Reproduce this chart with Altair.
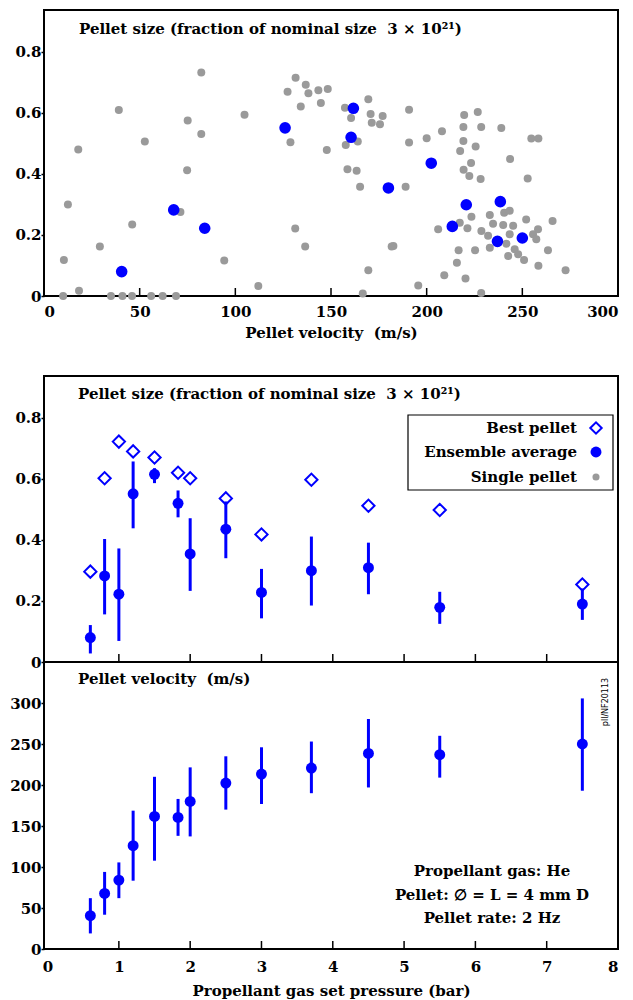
import altair as alt
import pandas as pd

FONT = "DejaVu Serif"
BLUE = "#0000ff"
GREY = "#9a9a9a"

# ---------------- data ----------------
pressure = [0.6, 0.8, 1.0, 1.2, 1.5, 1.83, 2.0, 2.5, 3.0, 3.7, 4.5, 5.5, 7.5]
best_size = [0.296, 0.602, 0.722, 0.690, 0.670, 0.620, 0.602, 0.536, 0.418, 0.597, 0.512, 0.498, 0.254]
avg_size = [0.080, 0.282, 0.222, 0.551, 0.615, 0.520, 0.354, 0.435, 0.228, 0.299, 0.309, 0.179, 0.190]
size_lo = [0.028, 0.156, 0.069, 0.438, 0.586, 0.474, 0.233, 0.340, 0.143, 0.185, 0.222, 0.125, 0.138]
size_hi = [0.121, 0.403, 0.372, 0.657, 0.635, 0.562, 0.471, 0.526, 0.305, 0.411, 0.391, 0.230, 0.241]
avg_vel = [40.6, 67.8, 84.0, 126.0, 161.7, 160.5, 180.0, 202.4, 213.4, 220.7, 238.5, 237.0, 250.0]
vel_lo = [19.0, 41.8, 62.0, 83.3, 107.7, 138.0, 137.3, 170.0, 176.8, 190.0, 197.0, 209.0, 193.0]
vel_hi = [62.0, 94.0, 105.6, 168.7, 210.0, 183.0, 221.5, 235.0, 246.0, 253.0, 280.5, 260.0, 305.6]

single_vel = [82.2, 39.1, 104.8, 75.1, 82.2, 52.7, 17.9, 74.8, 12.5, 71.3, 46.1, 29.2, 10.4, 94.2, 112.0, 18.3,
              10.0, 35.0, 41.0, 46.0, 56.0, 62.0, 69.0,
              131.5, 136.8, 127.3, 138.2, 143.4, 148.3, 134.2, 144.7, 157.3, 169.5, 160.5, 170.7, 177.0, 171.3,
              175.6, 190.8, 128.8, 157.7, 164.0, 147.8, 190.8, 158.6, 163.4, 165.2, 189.0, 131.3, 136.5, 181.7,
              169.5, 166.6,
              200.0, 208.0, 219.6, 226.7, 219.2, 228.5, 239.0, 219.2, 217.5, 225.6, 254.7, 258.4, 243.6, 223.2,
              219.3, 222.3, 228.2, 252.8,
              223.4, 233.0, 240.5, 243.4, 252.0, 265.8, 206.0, 217.3, 221.3, 228.6, 234.7, 240.0, 245.2, 258.2,
              255.6, 232.1, 243.4, 257.3, 241.7, 246.0, 242.6, 247.8, 250.9, 233.0, 225.3, 216.7, 215.8, 209.2,
              220.3, 228.5, 195.6, 258.4, 263.4, 272.6, 182.6]
single_size = [0.732, 0.609, 0.594, 0.575, 0.531, 0.506, 0.480, 0.412, 0.300, 0.275, 0.234, 0.162, 0.118, 0.116, 0.033, 0.017,
               0.0, 0.0, 0.0, 0.0, 0.0, 0.0, 0.0,
               0.715, 0.692, 0.669, 0.664, 0.674, 0.678, 0.621, 0.632, 0.617, 0.645, 0.583, 0.596, 0.590, 0.568,
               0.563, 0.610, 0.504, 0.495, 0.506, 0.478, 0.503, 0.415, 0.410, 0.358, 0.358, 0.221, 0.162, 0.162,
               0.084, 0.008,
               0.517, 0.540, 0.593, 0.603, 0.554, 0.554, 0.550, 0.508, 0.475, 0.490, 0.516, 0.516, 0.449, 0.436,
               0.414, 0.393, 0.383, 0.385,
               0.260, 0.265, 0.273, 0.279, 0.251, 0.246, 0.219, 0.240, 0.222, 0.213, 0.237, 0.233, 0.230, 0.219,
               0.202, 0.197, 0.202, 0.186, 0.171, 0.153, 0.131, 0.137, 0.118, 0.158, 0.150, 0.150, 0.109, 0.068,
               0.057, 0.010, 0.034, 0.099, 0.150, 0.084, 0.164]

vel_axis_values = [0, 50, 100, 150, 200, 250, 300]
vel_inner_ticks = [50, 100, 150, 200, 250]
size_axis_values = [0, 0.2, 0.4, 0.6, 0.8]
p_axis_values = [0, 1, 2, 3, 4, 5, 6, 7, 8]
p_inner_ticks = [1, 2, 3, 4, 5, 6, 7]
velo_axis_values = [0, 50, 100, 150, 200, 250, 300]

NB = "\u00a0"
size_title = "Pellet size (fraction of nominal size " + NB + "3 \u00d7 10\u00b2\u00b9)"
vel_title = "Pellet velocity " + NB + "(m/s)"
x1_title = "Pellet velocity " + NB + "(m/s)"
x3_title = "Propellant gas set pressure (bar)"
legend_labels = ["Best pellet", "Ensemble average", "Single pellet"]
note_lines = ["Propellant gas: He", "Pellet: \u2205 = L = 4 mm D", "Pellet rate: 2 Hz"]
code_label = "pll/NF20113"

# ---------------- sizes ----------------
W = 574
H1 = 286
H2 = 286
H3 = 287
FS = 15
TICK = 8

df_single = pd.DataFrame({"v": single_vel, "s": single_size})
df_main = pd.DataFrame({"p": pressure, "v": avg_vel, "s": avg_size, "best": best_size,
                        "slo": size_lo, "shi": size_hi, "vlo": vel_lo, "vhi": vel_hi})
one = pd.DataFrame({"a": [0]})

size_label_expr = "datum.value == 0 ? '0' : format(datum.value, '.1f')"


def ytxt(text, x, y, align="left", size=FS):
    return alt.Chart(one).mark_text(align=align, baseline="middle", font=FONT, fontWeight="bold",
                                    fontSize=size, color="black", text=text).encode(
        x=alt.value(x), y=alt.value(y))


# ---------------- panel 1 ----------------
xs1 = alt.Scale(domain=[0, 300], nice=False, zero=False)
ys1 = alt.Scale(domain=[0, 0.937], nice=False)
xax1 = alt.Axis(values=vel_axis_values, ticks=False, domain=False, grid=False, labelPadding=8,
                title=x1_title, titlePadding=6, format="d")
yax1 = alt.Axis(values=size_axis_values, labelExpr=size_label_expr, tickSize=3, domain=False,
                grid=False, labelPadding=0, title=None)

p1_grey = alt.Chart(df_single).mark_circle(size=64, color=GREY, opacity=1).encode(
    x=alt.X("v:Q", scale=xs1, axis=xax1, title=x1_title),
    y=alt.Y("s:Q", scale=ys1, axis=yax1, title=None))
p1_blue = alt.Chart(df_main).mark_circle(size=135, color=BLUE, opacity=1).encode(
    x=alt.X("v:Q", title=x1_title), y=alt.Y("s:Q", title=None))
p1_ticks = alt.Chart(pd.DataFrame({"v": vel_inner_ticks})).mark_rule(color="black", strokeWidth=1.5).encode(
    x=alt.X("v:Q", title=x1_title), y=alt.value(H1), y2=alt.value(H1 - TICK))
p1 = alt.layer(p1_grey, p1_blue, p1_ticks, ytxt(size_title, 35, 19)).properties(width=W, height=H1)

# ---------------- panel 2 ----------------
xs2 = alt.Scale(domain=[-0.05, 8], nice=False, zero=False)
ys2 = alt.Scale(domain=[0, 0.937], nice=False)
yax2 = alt.Axis(values=size_axis_values, labelExpr=size_label_expr, tickSize=3, domain=False,
                grid=False, labelPadding=0, title=None)

p2_err = alt.Chart(df_main).mark_rule(color=BLUE, strokeWidth=3).encode(
    x=alt.X("p:Q", scale=xs2, axis=None),
    y=alt.Y("slo:Q", scale=ys2, axis=yax2, title=None), y2="shi:Q")
p2_avg = alt.Chart(df_main).mark_circle(size=120, color=BLUE, opacity=1).encode(
    x=alt.X("p:Q", axis=None), y=alt.Y("s:Q", title=None))
p2_best = alt.Chart(df_main).mark_point(shape="diamond", size=150, color=BLUE, strokeWidth=2,
                                        filled=False, opacity=1).encode(
    x=alt.X("p:Q", axis=None), y=alt.Y("best:Q", title=None))
p2_ticks = alt.Chart(pd.DataFrame({"p": p_inner_ticks})).mark_rule(color="black", strokeWidth=1.5).encode(
    x=alt.X("p:Q", axis=None), y=alt.value(H2), y2=alt.value(H2 - TICK))

leg_box = alt.Chart(one).mark_rect(fill="white", stroke="black", strokeWidth=1.2).encode(
    x=alt.value(364), x2=alt.value(569), y=alt.value(39), y2=alt.value(114))
leg_t = [ytxt(legend_labels[i], 533, yy, align="right") for i, yy in enumerate([52, 76, 101])]
leg_s1 = alt.Chart(one).mark_point(shape="diamond", size=130, color=BLUE, strokeWidth=2, filled=False,
                                   opacity=1).encode(x=alt.value(552), y=alt.value(52))
leg_s2 = alt.Chart(one).mark_circle(size=120, color=BLUE, opacity=1).encode(x=alt.value(552), y=alt.value(76))
leg_s3 = alt.Chart(one).mark_circle(size=50, color=GREY, opacity=1).encode(x=alt.value(552), y=alt.value(101))

p2 = alt.layer(p2_err, p2_avg, p2_best, p2_ticks, ytxt(size_title, 34, 18),
               leg_box, *leg_t, leg_s1, leg_s2, leg_s3).properties(width=W, height=H2)

# ---------------- panel 3 ----------------
ys3 = alt.Scale(domain=[0, 350], nice=False)
xax3 = alt.Axis(values=p_axis_values, ticks=False, domain=False, grid=False, labelPadding=10,
                title=x3_title, titlePadding=9, format="d")
yax3 = alt.Axis(values=velo_axis_values, tickSize=3, domain=False, grid=False, labelPadding=0, title=None,
                format="d")

p3_err = alt.Chart(df_main).mark_rule(color=BLUE, strokeWidth=3).encode(
    x=alt.X("p:Q", scale=xs2, axis=xax3, title=x3_title),
    y=alt.Y("vlo:Q", scale=ys3, axis=yax3, title=None), y2="vhi:Q")
p3_avg = alt.Chart(df_main).mark_circle(size=120, color=BLUE, opacity=1).encode(
    x=alt.X("p:Q", title=x3_title), y=alt.Y("v:Q", title=None))
p3_ticks = alt.Chart(pd.DataFrame({"p": p_inner_ticks})).mark_rule(color="black", strokeWidth=1.5).encode(
    x=alt.X("p:Q", title=x3_title), y=alt.value(H3), y2=alt.value(H3 - TICK))
note = [ytxt(note_lines[i], 448, yy, align="center") for i, yy in enumerate([209, 233, 256])]
code = alt.Chart(one).mark_text(font="DejaVu Sans", fontSize=8, angle=270, color="black",
                                align="center", baseline="middle", text=code_label).encode(
    x=alt.value(562), y=alt.value(40))

p3 = alt.layer(p3_err, p3_avg, p3_ticks, ytxt(vel_title, 34, 17), *note, code).properties(width=W, height=H3)

lower = alt.vconcat(p2, p3, spacing=0, bounds="flush")
chart = alt.vconcat(p1, lower, spacing=34).properties(
    padding={"left": 0, "top": 1, "right": 5, "bottom": 2}
).configure_view(stroke="black", strokeWidth=2).configure_axis(
    labelFont=FONT, titleFont=FONT, labelFontWeight="bold", titleFontWeight="bold",
    labelColor="black", titleColor="black", tickColor="black", tickWidth=1.5,
    labelFontSize=FS, titleFontSize=FS)

chart.save("out.html", embed_options={"renderer": "svg", "actions": False})
